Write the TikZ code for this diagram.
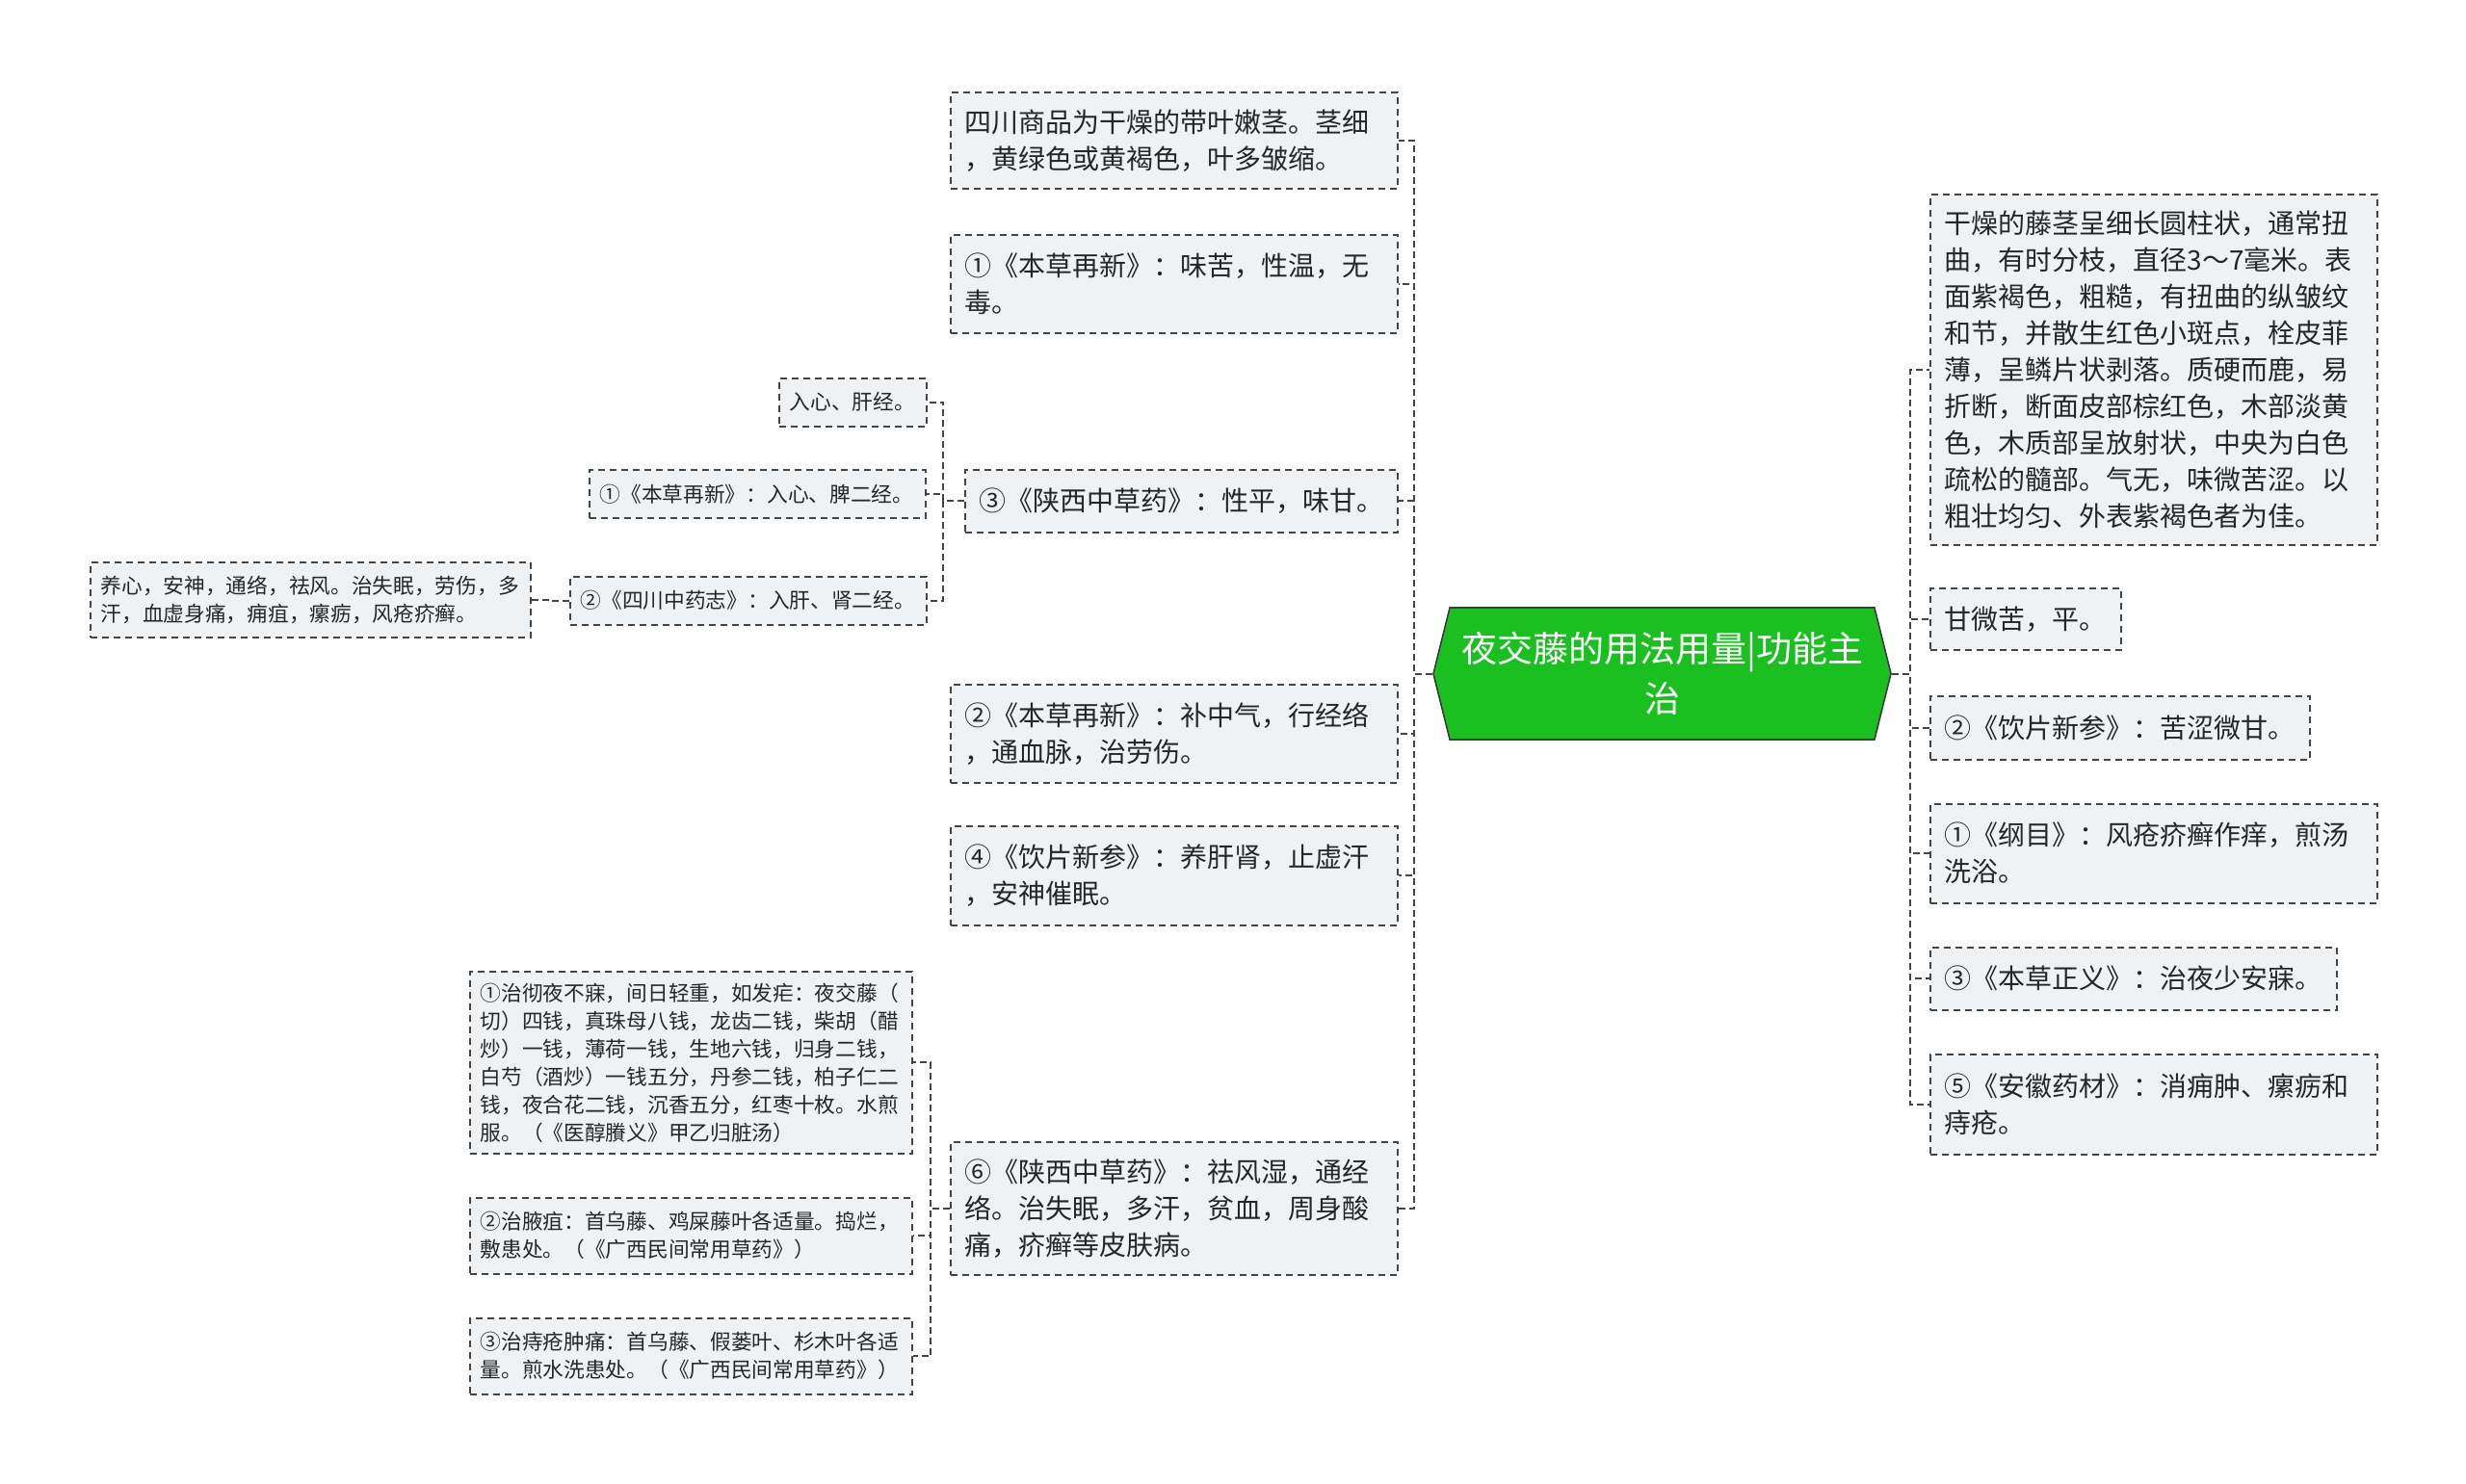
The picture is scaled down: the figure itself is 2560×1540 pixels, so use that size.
\documentclass[tikz,border=0pt]{standalone}
\usepackage{fontspec}
\setmainfont{Noto Sans CJK SC}
\usetikzlibrary{shapes.symbols}
\definecolor{leafbg}{RGB}{239,242,245}
\definecolor{leafline}{RGB}{68,68,68}
\definecolor{rootgreen}{RGB}{26,192,32}
\definecolor{rootline}{RGB}{60,60,60}
\tikzset{
	leaf/.style={draw=leafline, line width=1.5pt, dash pattern=on 7pt off 5pt, fill=leafbg, anchor=north west, align=left, inner xsep=15pt, inner ysep=0pt, text=black!85, font=\fontsize{28}{38}\selectfont},
	twig/.style={leaf, inner xsep=11pt, font=\fontsize{21.7}{29}\selectfont},
	link/.style={draw=leafline, line width=2pt, dash pattern=on 7pt off 4pt},
	rootbox/.style={shape=signal, signal to=west and east, signal pointer angle=152, fill=rootgreen, draw=rootline, line width=1.6pt, text=white, align=center, inner sep=0pt, minimum width=475pt, minimum height=137pt, font=\fontsize{37}{52}\selectfont},
}
\begin{document}
\begin{tikzpicture}[x=1pt,y=-1pt]
		%%%%% START %%%%%
		\useasboundingbox (0,0) rectangle (2560,1540);
		
		\node[rootbox] (root) at (1725.5,699.5) {夜交藤的用法用量|功能主\\治};
		
		% middle column
		\node[leaf, text width=434pt, minimum height=100pt] (m1) at (986,95) {四川商品为干燥的带叶嫩茎。茎细\\，黄绿色或黄褐色，叶多皱缩。};
		\node[leaf, text width=434pt, minimum height=102pt] (m2) at (986,243) {①《本草再新》：味苦，性温，无\\毒。};
		\node[leaf, text width=419pt, minimum height=65pt] (m3) at (1001,487) {③《陕西中草药》：性平，味甘。};
		\node[leaf, text width=434pt, minimum height=102pt] (m4) at (986,710) {②《本草再新》：补中气，行经络\\，通血脉，治劳伤。};
		\node[leaf, text width=434pt, minimum height=103pt] (m5) at (986,857) {④《饮片新参》：养肝肾，止虚汗\\，安神催眠。};
		\node[leaf, text width=434pt, minimum height=138pt] (m6) at (986,1185) {⑥《陕西中草药》：祛风湿，通经\\络。治失眠，多汗，贫血，周身酸\\痛，疥癣等皮肤病。};
		
		% left of m3
		\node[twig, text width=131pt, minimum height=50pt] (a1) at (808,392) {入心、肝经。};
		\node[twig, text width=327pt, minimum height=50pt] (a2) at (611,487) {①《本草再新》：入心、脾二经。};
		\node[twig, text width=348pt, minimum height=50pt] (a3) at (591,598) {②《四川中药志》：入肝、肾二经。};
		\node[twig, text width=435pt, minimum height=78pt] (b1) at (93,583) {养心，安神，通络，祛风。治失眠，劳伤，多\\汗，血虚身痛，痈疽，瘰疬，风疮疥癣。};
		
		% left of m6
		\node[twig, text width=437pt, minimum height=189pt] (c1) at (487,1008) {①治彻夜不寐，间日轻重，如发疟：夜交藤（\\切）四钱，真珠母八钱，龙齿二钱，柴胡（醋\\炒）一钱，薄荷一钱，生地六钱，归身二钱，\\白芍（酒炒）一钱五分，丹参二钱，柏子仁二\\钱，夜合花二钱，沉香五分，红枣十枚。水煎\\服。（《医醇賸义》甲乙归脏汤）};
		\node[twig, text width=437pt, minimum height=79pt] (c2) at (487,1243) {②治腋疽：首乌藤、鸡屎藤叶各适量。捣烂，\\敷患处。（《广西民间常用草药》）};
		\node[twig, text width=437pt, minimum height=79pt] (c3) at (487,1368) {③治痔疮肿痛：首乌藤、假蒌叶、杉木叶各适\\量。煎水洗患处。（《广西民间常用草药》）};
		
		% right column
		\node[leaf, text width=434pt, minimum height=364pt] (r1) at (2003,201) {干燥的藤茎呈细长圆柱状，通常扭\\曲，有时分枝，直径3～7毫米。表\\面紫褐色，粗糙，有扭曲的纵皱纹\\和节，并散生红色小斑点，栓皮菲\\薄，呈鳞片状剥落。质硬而鹿，易\\折断，断面皮部棕红色，木部淡黄\\色，木质部呈放射状，中央为白色\\疏松的髓部。气无，味微苦涩。以\\粗壮均匀、外表紫褐色者为佳。};
		\node[leaf, text width=168pt, minimum height=64pt] (r2) at (2003,610) {甘微苦，平。};
		\node[leaf, text width=364pt, minimum height=66pt] (r3) at (2003,722) {②《饮片新参》：苦涩微甘。};
		\node[leaf, text width=434pt, minimum height=103pt] (r4) at (2003,834) {①《纲目》：风疮疥癣作痒，煎汤\\洗浴。};
		\node[leaf, text width=392pt, minimum height=65pt] (r5) at (2003,983) {③《本草正义》：治夜少安寐。};
		\node[leaf, text width=434pt, minimum height=104pt] (r6) at (2003,1094) {⑤《安徽药材》：消痈肿、瘰疬和\\痔疮。};
		
		% connectors
		\foreach \n in {m1,m2,m3,m4,m5,m6}
			\draw[link] (root.west) -- ++(-19,0) |- (\n.east);
		\foreach \n in {r1,r2,r3,r4,r5,r6}
			\draw[link] (root.east) -- ++(19,0) |- (\n.west);
		\foreach \n in {a1,a2,a3}
			\draw[link] (m3.west) -- ++(-22,0) |- (\n.east);
		\draw[link] (a3.west) -- ++(-20,0) |- (b1.east);
		\foreach \n in {c1,c2,c3}
			\draw[link] (m6.west) -- ++(-20,0) |- (\n.east);
		
		%%%%% END %%%%%
\end{tikzpicture}
\end{document}
